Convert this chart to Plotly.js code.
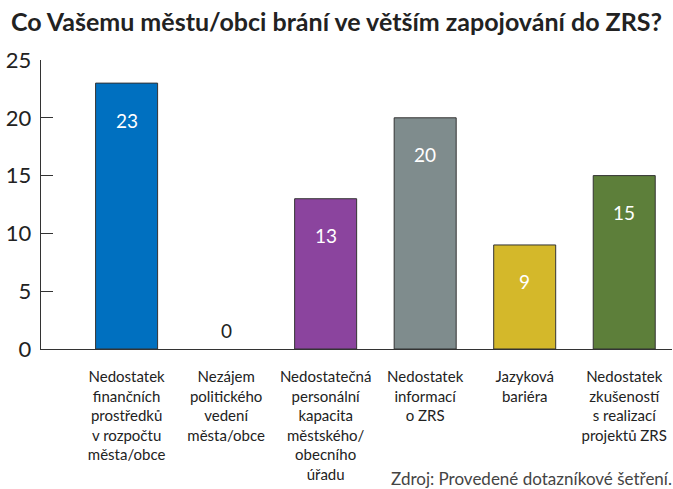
<!DOCTYPE html>
<html><head><meta charset="utf-8">
<script src="https://cdn.plot.ly/plotly-3.0.1.min.js"></script>
<style>html,body{margin:0;padding:0;background:#fff}#chart{width:673px;height:489px}</style>
</head><body><div id="chart"></div>
<script>
const categories = [
  "Nedostatek<br>finančních<br>prostředků<br>v rozpočtu<br>města/obce",
  "Nezájem<br>politického<br>vedení<br>města/obce",
  "Nedostatečná<br>personální<br>kapacita<br>městského/<br>obecního<br>úřadu",
  "Nedostatek<br>informací<br>o ZRS",
  "Jazyková<br>bariéra",
  "Nedostatek<br>zkušeností<br>s realizací<br>projektů ZRS"
];
const values = [23, 0, 13, 20, 9, 15];
const colors = ["#0070C0", "#7F7F7F", "#8B449E", "#7F8C8D", "#D4B82A", "#5D7F3A"];
const yTicks = [0, 5, 10, 15, 20, 25];
const FONT = "Lato, 'Open Sans', sans-serif";
const idx = categories.map((c, i) => i);

const annotations = values.map((v, i) => ({
  x: i, y: v, xref: 'x', yref: 'y', text: String(v), showarrow: false,
  yanchor: 'middle', yshift: v === 0 ? 19 : -37,
  font: {family: FONT, size: 19, color: v === 0 ? '#222' : '#fff'}
}));
annotations.push({
  xref: 'paper', yref: 'paper', x: 1, y: 0, yshift: -129, xshift: 2, xanchor: 'right', yanchor: 'middle',
  text: "Zdroj: Provedené dotazníkové šetření.", showarrow: false,
  font: {family: FONT, size: 17, color: '#444'}
});

Plotly.newPlot('chart', [{
  type: 'bar', x: idx, y: values,
  marker: {color: colors, line: {color: '#333', width: values.map(v => v === 0 ? 0 : 1)}},
  hoverinfo: 'none'
}], {
  width: 673, height: 489,
  margin: {l: 41, r: 1, t: 60, b: 140},
  paper_bgcolor: '#fff', plot_bgcolor: '#fff',
  bargap: 0.377,
  showlegend: false,
  title: {text: "<b>Co Vašemu městu/obci brání ve větším zapojování do ZRS?</b>",
    x: 0.5, xanchor: 'center', y: 0.955, yanchor: 'middle',
    font: {family: FONT, size: 25, color: '#222'}},
  xaxis: {
    range: [-0.86, 5.48], tickmode: 'array', tickvals: idx, ticktext: categories,
    showline: true, linecolor: '#333', linewidth: 1.3, ticks: '', showgrid: false, zeroline: false,
    tickfont: {family: FONT, size: 15, color: '#222'}, ticklabelstandoff: 14, fixedrange: true
  },
  yaxis: {
    range: [0, 25], tickmode: 'array', tickvals: yTicks,
    showline: true, linecolor: '#333', linewidth: 1.3, ticks: 'inside', ticklen: 12, tickwidth: 1.3, tickcolor: '#333',
    showgrid: false, zeroline: false,
    tickfont: {family: FONT, size: 22, color: '#222'}, ticklabelstandoff: 4, fixedrange: true
  },
  annotations: annotations
}, {displayModeBar: false, staticPlot: true});
</script></body></html>
